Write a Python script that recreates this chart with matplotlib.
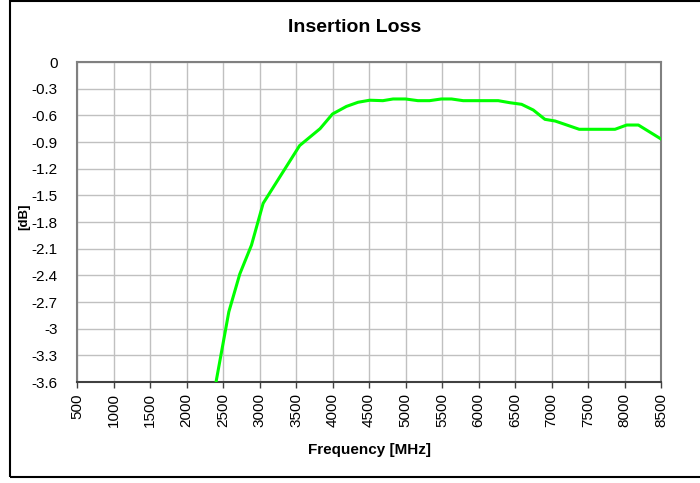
import matplotlib
matplotlib.use("Agg")
import matplotlib.pyplot as plt
from matplotlib.patches import Rectangle

plt.rcParams['font.family'] = ['Liberation Sans', 'DejaVu Sans']

freq_mhz = [2400, 2580, 2730, 2890, 3050, 3550, 3830, 4000, 4190, 4350, 4510, 4690,
            4830, 5000, 5170, 5330, 5490, 5630, 5790, 6270, 6430, 6590, 6750,
            6910, 7050, 7210, 7380, 7870, 8030, 8190, 8500]
loss_db = [-3.62, -2.81, -2.385, -2.06, -1.59, -0.94, -0.75, -0.585, -0.50, -0.453, -0.43, -0.435,
           -0.416, -0.416, -0.435, -0.435, -0.416, -0.416, -0.435, -0.435, -0.458, -0.476, -0.54,
           -0.645, -0.664, -0.709, -0.757, -0.757, -0.709, -0.709, -0.866]
x_ticks = list(range(500, 8501, 500))
y_ticks = [0, -0.3, -0.6, -0.9, -1.2, -1.5, -1.8, -2.1, -2.4, -2.7, -3, -3.3, -3.6]
y_tick_labels = ['0', '-0.3', '-0.6', '-0.9', '-1.2', '-1.5', '-1.8', '-2.1', '-2.4', '-2.7', '-3', '-3.3', '-3.6']

W, H = 700, 483
fig = plt.figure(figsize=(W / 100, H / 100), dpi=100)
ax = fig.add_axes([77 / W, (H - 382) / H, 584 / W, 320 / H])

ax.plot(freq_mhz, loss_db, color='#00ff00', linewidth=2.2, solid_joinstyle='round', zorder=3)
ax.set_xlim(500, 8500)
ax.set_ylim(-3.6, 0)
ax.set_xticks(x_ticks)
ax.set_xticklabels([str(t) for t in x_ticks], rotation=90, fontsize=11)
ax.set_yticks(y_ticks)
ax.set_yticklabels(y_tick_labels, fontsize=11)
ax.grid(True, color='#c0c0c0', linewidth=1.0)
ax.set_axisbelow(True)
ax.tick_params(axis='x', direction='out', length=4, width=1, color='#404040', pad=4)
ax.tick_params(axis='y', length=0, pad=14)
for s in ['top', 'right', 'left']:
    ax.spines[s].set_color('#808080')
    ax.spines[s].set_linewidth(1.5)
ax.spines['bottom'].set_color('#404040')
ax.spines['bottom'].set_linewidth(1.5)

fig.text(355 / W, 1 - 27 / H, 'Insertion Loss', ha='center', va='center',
         fontsize=14, fontweight='bold')
fig.text(369 / W, 1 - 450 / H, 'Frequency [MHz]', ha='center', va='center',
         fontsize=11, fontweight='bold')
fig.text(24 / W, 1 - 217 / H, '[dB]', ha='center', va='center', rotation=90,
         fontsize=9.5, fontweight='bold')

fig.patches.append(Rectangle((9.5 / W, (H - 477) / H), 720 / W, 476 / H,
                             transform=fig.transFigure, fill=False,
                             edgecolor='black', linewidth=1.5))

fig.savefig('out.png', dpi=100)
